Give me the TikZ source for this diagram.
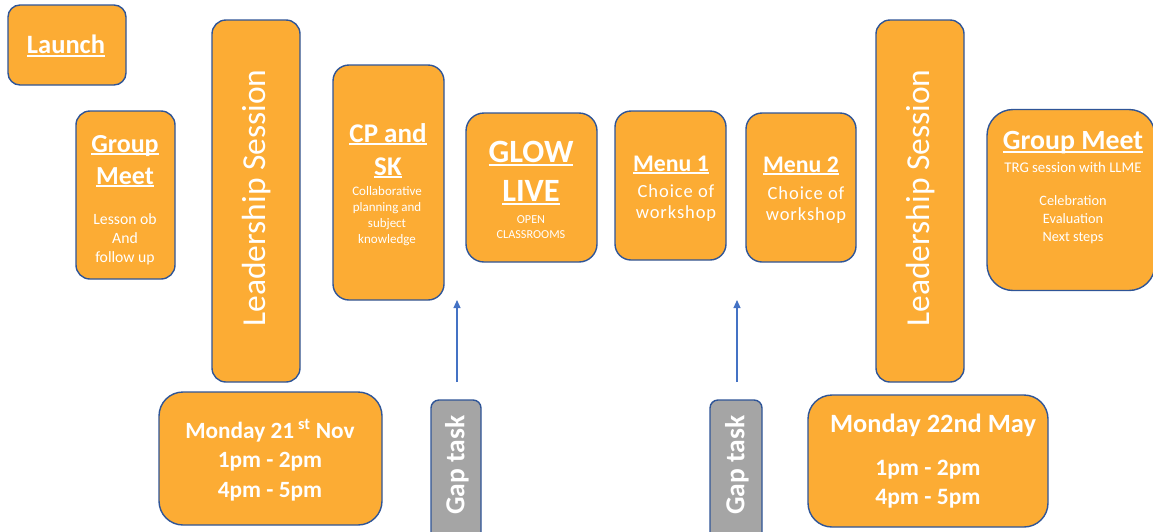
\documentclass[tikz,border=0pt]{standalone}
\usepackage{fontspec}
\setmainfont{Carlito}
\usetikzlibrary{arrows.meta}
\definecolor{orng}{HTML}{FCAC34}
\definecolor{edgeblue}{HTML}{2F5597}
\definecolor{gapgray}{HTML}{A5A5A5}
\definecolor{arrblue}{HTML}{4472C4}
\newcommand\ulhead[1]{\leavevmode\setbox0=\hbox{#1}\rlap{\rule[-0.11em]{\wd0}{0.075em}}\box0}
\newcommand\fs[2]{\fontsize{#1}{#2}\selectfont}
\tikzset{
  card/.style={draw=edgeblue, line width=1.4pt, fill=orng, rounded corners=#1, inner sep=0pt},
  card/.default=14pt,
  gapbox/.style={draw=edgeblue, line width=1.4pt, fill=gapgray, rounded corners=8pt, inner sep=0pt},
  sz/.style 2 args={minimum width=#1pt, minimum height=#2pt},
  txt/.style={text=white, align=center, inner sep=0pt},
  link/.style={draw=arrblue, line width=1.1pt, -{Triangle[length=8pt,width=7pt]}},
}
\begin{document}
\begin{tikzpicture}[x=1pt,y=-1pt]
\useasboundingbox (0,0) rectangle (1153,531);
\clip (0,0) rectangle (1153,531);
% boxes
\node[card=12pt, sz={118}{80}] (launch) at (67,45) {};
\node[card=14pt, sz={99}{168}] (gm1) at (125.5,195) {};
\node[card=14pt, sz={88}{362}] (lead1) at (256,201) {};
\node[card=16pt, sz={111}{235}] (cpsk) at (388.5,182.5) {};
\node[card=18pt, sz={131}{149}] (glow) at (531.5,187.5) {};
\node[card=16pt, sz={111}{149}] (menu1) at (670.5,185.5) {};
\node[card=16pt, sz={110}{149}] (menu2) at (801,187.5) {};
\node[card=14pt, sz={88}{362}] (lead2) at (920,201) {};
\node[card=26pt, sz={168}{181}] (gm2) at (1071,200) {};
\node[card=24pt, sz={223}{133}] (mon1) at (270.5,458.5) {};
\node[card=24pt, sz={240}{132}] (mon2) at (928,461) {};
\node[gapbox, sz={50}{145}] (gap1) at (456,472.5) {};
\node[gapbox, sz={52}{145}] (gap2) at (736,472.5) {};
% texts
\node[txt, font=\fs{26.5}{30}\bfseries] (launcht) at (66,46) {\ulhead{Launch}};
\node[txt, font=\fs{26}{32}\bfseries] (gm1h) at (125,161) {\ulhead{Group}\\\ulhead{Meet}};
\node[txt, font=\fs{15.7}{19}] (gm1b) at (125,239) {Lesson ob\\And\\follow up};
\node[txt, font=\fs{33.5}{38}, rotate=90] (lead1t) at (257,198) {Leadership Session};
\node[txt, font=\fs{27}{33}\bfseries] (cpskh) at (388,151) {\ulhead{CP and}\\\ulhead{SK}};
\node[txt, font=\fs{13}{16}] (cpskb) at (387,216) {Collaborative\\planning and\\subject\\knowledge};
\node[txt, font=\fs{32.5}{39}\bfseries] (glowh) at (531,173) {\ulhead{GLOW}\\\ulhead{LIVE}};
\node[txt, font=\fs{12.2}{15}] (glowb) at (531,227) {OPEN\\CLASSROOMS};
\node[txt, font=\fs{23.8}{26}\bfseries] (menu1h) at (671,165) {\ulhead{Menu 1}};
\node[txt, font=\fs{18.5}{21}\addfontfeature{LetterSpace=5}] (menu1b) at (676,203) {Choice of\\workshop};
\node[txt, font=\fs{23.8}{26}\bfseries] (menu2h) at (801,166) {\ulhead{Menu 2}};
\node[txt, font=\fs{18.5}{21}\addfontfeature{LetterSpace=5}] (menu2b) at (806,205) {Choice of\\workshop};
\node[txt, font=\fs{33.5}{38}, rotate=90] (lead2t) at (921,198) {Leadership Session};
\node[txt, font=\fs{27.8}{30}\bfseries] (gm2h) at (1073,143) {\ulhead{Group Meet}};
\node[txt, font=\fs{14.8}{18}] (gm2s) at (1073,167) {TRG session with LLME};
\node[txt, font=\fs{14.3}{18}] (gm2b) at (1073,220) {Celebration\\Evaluation\\Next steps};
\node[txt, font=\fs{23.3}{29.5}\bfseries] (mon1t) at (270,460) {Monday 21\,\textsuperscript{st} Nov\\1pm - 2pm\\4pm - 5pm};
\node[txt, font=\fs{26.4}{28}\bfseries] (mon2h) at (933,425) {Monday 22nd May};
\node[txt, font=\fs{23.5}{28.5}\bfseries] (mon2b) at (928,484) {1pm - 2pm\\4pm - 5pm};
\node[txt, font=\fs{27.5}{30}\bfseries, rotate=90] (gap1t) at (457,465) {Gap task};
\node[txt, font=\fs{27.5}{30}\bfseries, rotate=90] (gap2t) at (737,465) {Gap task};
% arrows
\coordinate (t1) at (457,382);
\coordinate (h1) at (457,300);
\coordinate (t2) at (737,382);
\coordinate (h2) at (737,300);
\draw[link] (t1) -- (h1);
\draw[link] (t2) -- (h2);
\end{tikzpicture}
\end{document}
